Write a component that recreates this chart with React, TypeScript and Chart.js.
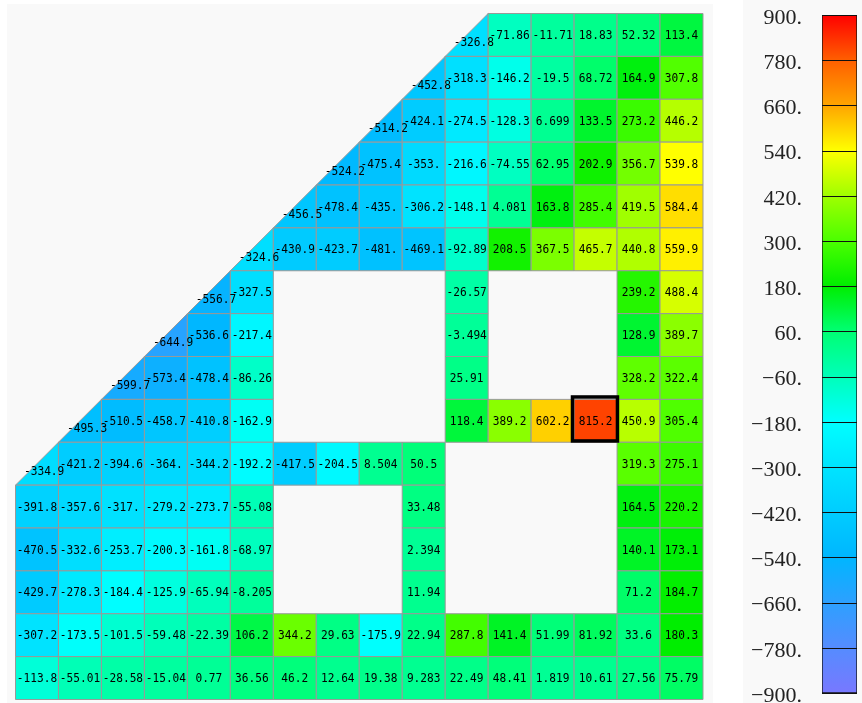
import React, { useEffect, useRef } from 'react';
import { Chart, registerables } from 'chart.js';

Chart.register(...registerables);

const N = null;

// Heatmap values, one array per row (top to bottom), 16 columns each (left to right); null = empty
const row00 = [N, N, N, N, N, N, N, N, N, N, -326.8, -71.86, -11.71, 18.83, 52.32, 113.4];
const row01 = [N, N, N, N, N, N, N, N, N, -452.8, -318.3, -146.2, -19.5, 68.72, 164.9, 307.8];
const row02 = [N, N, N, N, N, N, N, N, -514.2, -424.1, -274.5, -128.3, 6.699, 133.5, 273.2, 446.2];
const row03 = [N, N, N, N, N, N, N, -524.2, -475.4, -353.0, -216.6, -74.55, 62.95, 202.9, 356.7, 539.8];
const row04 = [N, N, N, N, N, N, -456.5, -478.4, -435.0, -306.2, -148.1, 4.081, 163.8, 285.4, 419.5, 584.4];
const row05 = [N, N, N, N, N, -324.6, -430.9, -423.7, -481.0, -469.1, -92.89, 208.5, 367.5, 465.7, 440.8, 559.9];
const row06 = [N, N, N, N, -556.7, -327.5, N, N, N, N, -26.57, N, N, N, 239.2, 488.4];
const row07 = [N, N, N, -644.9, -536.6, -217.4, N, N, N, N, -3.494, N, N, N, 128.9, 389.7];
const row08 = [N, N, -599.7, -573.4, -478.4, -86.26, N, N, N, N, 25.91, N, N, N, 328.2, 322.4];
const row09 = [N, -495.3, -510.5, -458.7, -410.8, -162.9, N, N, N, N, 118.4, 389.2, 602.2, 815.2, 450.9, 305.4];
const row10 = [-334.9, -421.2, -394.6, -364.0, -344.2, -192.2, -417.5, -204.5, 8.504, 50.5, N, N, N, N, 319.3, 275.1];
const row11 = [-391.8, -357.6, -317.0, -279.2, -273.7, -55.08, N, N, N, 33.48, N, N, N, N, 164.5, 220.2];
const row12 = [-470.5, -332.6, -253.7, -200.3, -161.8, -68.97, N, N, N, 2.394, N, N, N, N, 140.1, 173.1];
const row13 = [-429.7, -278.3, -184.4, -125.9, -65.94, -8.205, N, N, N, 11.94, N, N, N, N, 71.2, 184.7];
const row14 = [-307.2, -173.5, -101.5, -59.48, -22.39, 106.2, 344.2, 29.63, -175.9, 22.94, 287.8, 141.4, 51.99, 81.92, 33.6, 180.3];
const row15 = [-113.8, -55.01, -28.58, -15.04, 0.77, 36.56, 46.2, 12.64, 19.38, 9.283, 22.49, 48.41, 1.819, 10.61, 27.56, 75.79];

// Column of the half (triangular) cell on each row, -1 = none
const diagonalCols = [10, 9, 8, 7, 6, 5, 4, 3, 2, 1, 0, -1, -1, -1, -1, -1];

// Highlighted cell
const highlightRow = 9;
const highlightCol = 13;

// Colour bar
const colorbarTicks = [-900, -780, -660, -540, -420, -300, -180, -60, 60, 180, 300, 420, 540, 660, 780, 900];
const colorStopValues = [-900, -780, -660, -540, -420, -300, -180, -60, 60, 180, 300, 420, 540, 660, 780, 900];
const colorStopColors: number[][] = [
  [120, 120, 255], [85, 140, 255], [45, 160, 255], [0, 182, 255], [0, 205, 255], [0, 228, 255],
  [0, 255, 255], [0, 255, 185], [0, 255, 115], [0, 238, 0], [75, 255, 0], [160, 255, 0],
  [255, 255, 0], [255, 165, 0], [255, 95, 0], [255, 0, 0],
];

const rows = [row00, row01, row02, row03, row04, row05, row06, row07, row08, row09, row10, row11, row12, row13, row14, row15];

function colorFor(v: number): string {
  const vals = colorStopValues;
  if (v <= vals[0]) return `rgb(${colorStopColors[0].join(',')})`;
  for (let i = 1; i < vals.length; i++) {
    if (v <= vals[i]) {
      const t = (v - vals[i - 1]) / (vals[i] - vals[i - 1]);
      const a = colorStopColors[i - 1];
      const b = colorStopColors[i];
      const c = a.map((x, k) => Math.round(x + (b[k] - x) * t));
      return `rgb(${c.join(',')})`;
    }
  }
  return `rgb(${colorStopColors[colorStopColors.length - 1].join(',')})`;
}

function fmt(v: number): string {
  let s = v.toPrecision(4);
  if (s.includes('.')) s = s.replace(/0+$/, '');
  return s;
}

const heatmapPlugin = {
  id: 'heatmapCells',
  afterDatasetsDraw(chart: any) {
    const { ctx } = chart;
    const xs = chart.scales.x;
    const ys = chart.scales.y;
    const pts = chart.data.datasets[0].data as any[];
    ctx.save();
    const geom = (p: any) => ({
      x0: xs.getPixelForValue(p.x),
      x1: xs.getPixelForValue(p.x + 1),
      y0: ys.getPixelForValue(p.y),
      y1: ys.getPixelForValue(p.y + 1),
    });
    for (const p of pts) {
      const g = geom(p);
      ctx.fillStyle = colorFor(p.v);
      ctx.strokeStyle = '#999';
      ctx.lineWidth = 1;
      ctx.beginPath();
      if (p.tri) {
        ctx.moveTo(g.x0, g.y1);
        ctx.lineTo(g.x1, g.y1);
        ctx.lineTo(g.x1, g.y0);
        ctx.closePath();
      } else {
        ctx.rect(g.x0, g.y0, g.x1 - g.x0, g.y1 - g.y0);
      }
      ctx.fill();
      ctx.stroke();
    }
    ctx.fillStyle = '#000';
    ctx.font = "12px 'DejaVu Sans Mono'";
    ctx.textAlign = 'center';
    ctx.textBaseline = 'middle';
    for (const p of pts) {
      const g = geom(p);
      let cx = (g.x0 + g.x1) / 2;
      let cy = (g.y0 + g.y1) / 2;
      if (p.tri) {
        cx = (g.x0 + 2 * g.x1) / 3;
        cy = (g.y0 + 2 * g.y1) / 3;
      }
      ctx.save();
      ctx.translate(cx, cy + 1);
      ctx.scale(0.93, 1);
      ctx.fillText(fmt(p.v), 0, 0);
      ctx.restore();
    }
    const h = geom({ x: highlightCol, y: highlightRow });
    ctx.strokeStyle = '#000';
    ctx.lineWidth = 3.5;
    ctx.strokeRect(h.x0 - 1.6, h.y0 - 2.4, h.x1 - h.x0 + 2, h.y1 - h.y0 + 1.1);
    ctx.restore();
  },
};

const dividerPlugin = {
  id: 'cbDividers',
  afterDatasetsDraw(chart: any) {
    const { ctx } = chart;
    const ys = chart.scales.y;
    const bar = chart.getDatasetMeta(0).data[0] as any;
    if (!bar) return;
    const left = bar.x - bar.width / 2;
    const right = bar.x + bar.width / 2;
    ctx.save();
    ctx.strokeStyle = '#111';
    ctx.lineWidth = 1;
    for (const v of colorbarTicks) {
      const y = Math.round(ys.getPixelForValue(v)) + 0.5;
      ctx.beginPath();
      ctx.moveTo(left, y);
      ctx.lineTo(right, y);
      ctx.stroke();
    }
    ctx.restore();
  },
};

export default function App() {
  const mainRef = useRef<HTMLCanvasElement>(null);
  const cbRef = useRef<HTMLCanvasElement>(null);

  useEffect(() => {
    const points: any[] = [];
    rows.forEach((row, r) =>
      row.forEach((v, c) => {
        if (v !== null) points.push({ x: c, y: r, v, tri: diagonalCols[r] === c });
      })
    );
    const main = new Chart(mainRef.current as HTMLCanvasElement, {
      type: 'scatter',
      data: { datasets: [{ data: points, pointRadius: 0, pointHoverRadius: 0 }] },
      options: {
        animation: false,
        responsive: false,
        events: [],
        layout: { padding: { left: 15.5, top: 13.5, right: 10, bottom: 3.5 } },
        scales: {
          x: { type: 'linear', min: 0, max: 16, display: false },
          y: { type: 'linear', min: 0, max: 16, reverse: true, display: false },
        },
        plugins: { legend: { display: false }, tooltip: { enabled: false } },
      } as any,
      plugins: [heatmapPlugin],
    });

    const cb = new Chart(cbRef.current as HTMLCanvasElement, {
      type: 'bar',
      data: {
        labels: [''],
        datasets: [
          {
            data: [[-900, 900]] as any,
            backgroundColor: (c: any) => {
              const chart = c.chart;
              if (!chart.chartArea) return '#888';
              const ys = chart.scales.y;
              const g = chart.ctx.createLinearGradient(0, ys.getPixelForValue(-900), 0, ys.getPixelForValue(900));
              colorStopValues.forEach((v, i) => g.addColorStop((v + 900) / 1800, `rgb(${colorStopColors[i].join(',')})`));
              return g;
            },
            borderColor: '#111',
            borderWidth: 1,
            borderSkipped: false,
            categoryPercentage: 1,
            barPercentage: 1,
          } as any,
        ],
      },
      options: {
        animation: false,
        responsive: false,
        events: [],
        layout: { padding: { left: 0, right: 5, top: 15, bottom: 10 } },
        scales: {
          x: { display: false },
          y: {
            min: -900,
            max: 900,
            position: 'left',
            grid: { display: false, drawTicks: false },
            border: { display: false },
            afterBuildTicks: (s: any) => {
              s.ticks = colorbarTicks.map((v) => ({ value: v }));
            },
            afterFit: (s: any) => {
              s.width = 79;
              s.paddingTop = 0;
              s.paddingBottom = 0;
            },
            ticks: {
              autoSkip: false,
              padding: 20,
              labelOffset: 3,
              color: '#222',
              font: { family: "'Liberation Serif', 'DejaVu Serif', serif", size: 22 },
              callback: (v: any) => (v < 0 ? '\u2212' + -v : String(v)) + '.',
            },
          },
        },
        plugins: { legend: { display: false }, tooltip: { enabled: false } },
      } as any,
      plugins: [dividerPlugin],
    });

    return () => {
      main.destroy();
      cb.destroy();
    };
  }, []);

  return (
    <div style={{ position: 'fixed', left: 0, top: 0, width: 862, height: 703, background: '#fff', overflow: 'hidden' }}>
      <div style={{ position: 'absolute', left: 7, top: 4, width: 706, height: 699, background: '#f9f9f9' }} />
      <div style={{ position: 'absolute', left: 743, top: 0, width: 119, height: 703, background: '#f9f9f9' }} />
      <canvas ref={mainRef} width={713} height={703} style={{ position: 'absolute', left: 0, top: 0 }} />
      <canvas ref={cbRef} width={119} height={703} style={{ position: 'absolute', left: 743, top: 0 }} />
    </div>
  );
}
